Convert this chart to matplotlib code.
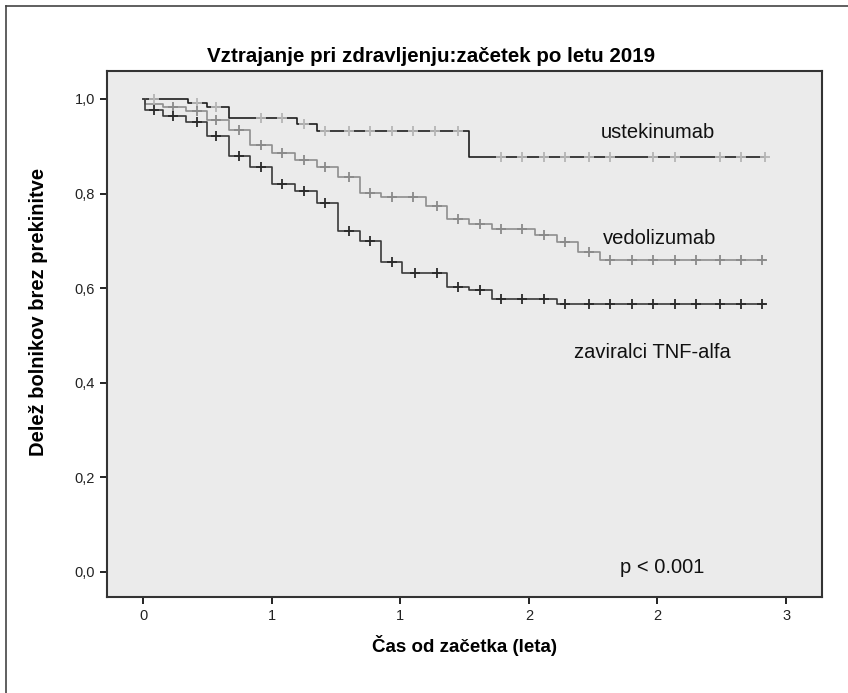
import numpy as np
import matplotlib
matplotlib.use("Agg")
import matplotlib.pyplot as plt
from matplotlib.ticker import FuncFormatter
from matplotlib.lines import Line2D

plt.rcParams['font.family'] = ['Liberation Sans', 'DejaVu Sans']

# Kaplan-Meier step data (time in years, survival proportion)
ust_t = [0, 0.21, 0.30, 0.40, 0.72, 0.81, 1.52]
ust_s = [1.0, 0.992, 0.984, 0.960, 0.946, 0.933, 0.877]
ust_cens = [0.05, 0.25, 0.34, 0.55, 0.65, 0.75, 0.85, 0.96, 1.06, 1.16, 1.26,
            1.36, 1.47, 1.67, 1.77, 1.87, 1.97, 2.08, 2.18, 2.38, 2.48, 2.69,
            2.79, 2.90]

ved_t = [0, 0.01, 0.095, 0.20, 0.30, 0.40, 0.50, 0.60, 0.71, 0.81, 0.91, 1.01,
         1.11, 1.32, 1.42, 1.52, 1.63, 1.83, 1.93, 2.03, 2.13]
ved_s = [1.0, 0.989, 0.984, 0.974, 0.956, 0.934, 0.903, 0.885, 0.871, 0.856,
         0.834, 0.801, 0.792, 0.773, 0.746, 0.736, 0.725, 0.712, 0.697, 0.677,
         0.660]
ved_cens = [0.14, 0.25, 0.34, 0.45, 0.55, 0.65, 0.75, 0.85, 0.96, 1.06, 1.16,
            1.26, 1.37, 1.47, 1.57, 1.67, 1.77, 1.87, 1.97, 2.08, 2.18, 2.28,
            2.38, 2.48, 2.58, 2.69, 2.79, 2.89]

tnf_t = [0, 0.01, 0.095, 0.20, 0.30, 0.40, 0.50, 0.60, 0.71, 0.81, 0.91, 1.01,
         1.11, 1.21, 1.42, 1.52, 1.63, 1.93]
tnf_s = [1.0, 0.977, 0.964, 0.952, 0.922, 0.880, 0.857, 0.820, 0.806, 0.781,
         0.720, 0.699, 0.655, 0.633, 0.602, 0.596, 0.577, 0.566]
tnf_cens = [0.05, 0.14, 0.25, 0.34, 0.45, 0.55, 0.65, 0.75, 0.85, 0.96, 1.06,
            1.16, 1.27, 1.37, 1.47, 1.57, 1.67, 1.77, 1.87, 1.97, 2.08, 2.18,
            2.28, 2.38, 2.48, 2.58, 2.69, 2.79, 2.89]

t_end = 2.90

groups = [
    ("ustekinumab", ust_t, ust_s, ust_cens, "#1e1e1e", "#b5b5b5", (2.403, 0.928)),
    ("vedolizumab", ved_t, ved_s, ved_cens, "#8e8e8e", "#8a8a8a", (2.408, 0.706)),
    ("zaviralci TNF-alfa", tnf_t, tnf_s, tnf_cens, "#3a3a3a", "#2a2a2a", (2.375, 0.463)),
]

fig = plt.figure(figsize=(8.48, 6.93), dpi=100)
ax = fig.add_axes([0.1262, 0.1385, 0.8432, 0.759])
ax.set_facecolor("#ebebeb")

for name, t, s, cens, lc, cc, (lx, ly) in groups:
    xs = list(t) + [t_end]
    ys = list(s) + [s[-1]]
    ax.step(xs, ys, where="post", color=lc, lw=1.2, zorder=2)
    idx = np.searchsorted(np.array(t), np.array(cens), side="right") - 1
    cy = np.array(s)[idx]
    ax.plot(cens, cy, linestyle="none", marker="+", ms=7, mew=1.3,
            color=cc, zorder=3)
    ax.text(lx, ly, name, ha="center", va="center", fontsize=14.5,
            color="#111111")

ax.text(2.42, 0.01, "p < 0.001", ha="center", va="center", fontsize=14.5,
        color="#111111")

ax.set_xlim(-0.168, 3.168)
ax.set_ylim(-0.053, 1.059)
ax.set_xticks([0, 0.6, 1.2, 1.8, 2.4, 3.0])
ax.set_yticks([0, 0.2, 0.4, 0.6, 0.8, 1.0])
ax.xaxis.set_major_formatter(FuncFormatter(lambda v, p: f"{v:.0f}"))
ax.yaxis.set_major_formatter(FuncFormatter(lambda v, p: f"{v:.1f}".replace(".", ",")))
ax.tick_params(direction="out", length=5, width=1.4, labelsize=10.5,
               colors="#222222")

for sp in ax.spines.values():
    sp.set_linewidth(1.5)
    sp.set_color("#333333")

fig.text(431 / 848, 1 - 57 / 693, "Vztrajanje pri zdravljenju:začetek po letu 2019",
         fontsize=14.8, fontweight="bold", ha="center", va="center")
ax.set_xlabel("Čas od začetka (leta)", fontsize=13.5, fontweight="bold")
ax.set_ylabel("Delež bolnikov brez prekinitve", fontsize=14.5, fontweight="bold")
# label centres, in pixel terms converted to axes coords
ax.xaxis.set_label_coords(0.5, -(645 - 597) / 526, transform=ax.transAxes)
ax.yaxis.set_label_coords(-(107 - 38) / 715, (597 - 312) / 526, transform=ax.transAxes)
ax.xaxis.label.set_va("center")
ax.yaxis.label.set_va("center")

# outer frame (left and top edges visible)
fig.add_artist(Line2D([6 / 848, 6 / 848], [0, 1 - 6 / 693], color="#444444", lw=1.2))
fig.add_artist(Line2D([6 / 848, 1], [1 - 6 / 693, 1 - 6 / 693], color="#444444", lw=1.2))

fig.savefig("out.png", dpi=100)
